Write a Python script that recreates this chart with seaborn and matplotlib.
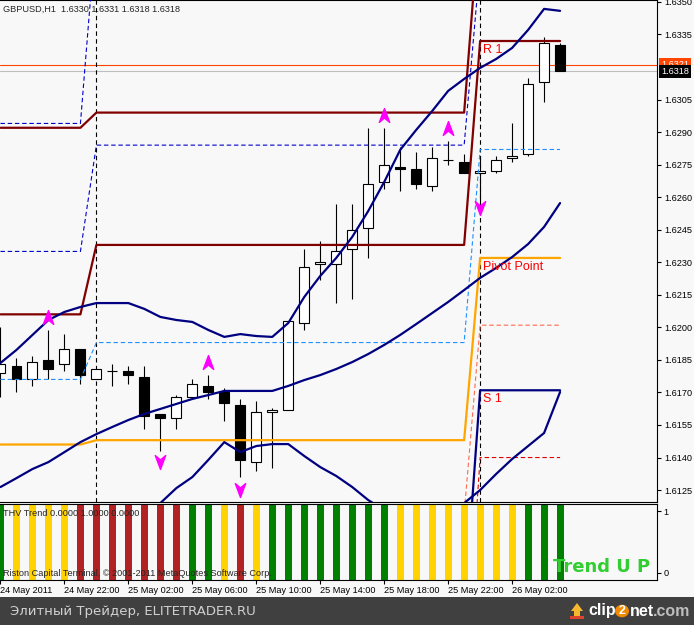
import numpy as np
import pandas as pd
import matplotlib
matplotlib.use("Agg")
import matplotlib.pyplot as plt
import matplotlib.transforms as mtransforms
from matplotlib.path import Path
from matplotlib.patches import Rectangle, Polygon, Circle
from matplotlib import font_manager
import seaborn as sns

# GBPUSD H1 candles, 24 May 2011 18:00 .. 26 May 05:00
opens = [1.6179, 1.6182, 1.6176, 1.6185, 1.6183, 1.6190, 1.6176, 1.6180, 1.6180, 1.6177,
         1.6160, 1.6158, 1.6168, 1.6173, 1.6170, 1.6164, 1.6138, 1.6161, 1.6162, 1.6202,
         1.6229, 1.6229, 1.6236, 1.6246, 1.6267, 1.6274, 1.6273, 1.6265, 1.6277, 1.6276,
         1.6271, 1.6272, 1.6278, 1.6280, 1.6313, 1.6330]
highs = [1.6200, 1.6186, 1.6187, 1.6199, 1.6197, 1.6190, 1.6181, 1.6183, 1.6182, 1.6182,
         1.6160, 1.6169, 1.6176, 1.6178, 1.6172, 1.6167, 1.6166, 1.6163, 1.6203, 1.6236,
         1.6240, 1.6257, 1.6257, 1.6292, 1.6292, 1.6283, 1.6281, 1.6283, 1.6286, 1.6280,
         1.6279, 1.6279, 1.6294, 1.6315, 1.6334, 1.6331]
lows = [1.6168, 1.6170, 1.6173, 1.6176, 1.6180, 1.6174, 1.6176, 1.6173, 1.6174, 1.6153,
        1.6143, 1.6153, 1.6168, 1.6167, 1.6157, 1.6131, 1.6134, 1.6135, 1.6162, 1.6199,
        1.6222, 1.6211, 1.6213, 1.6232, 1.6264, 1.6263, 1.6264, 1.6263, 1.6275, 1.6271,
        1.6257, 1.6271, 1.6276, 1.6279, 1.6304, 1.6318]
closes = [1.6183, 1.6176, 1.6184, 1.6181, 1.6190, 1.6178, 1.6181, 1.6180, 1.6178, 1.6159,
          1.6158, 1.6168, 1.6174, 1.6170, 1.6165, 1.6139, 1.6161, 1.6162, 1.6203, 1.6228,
          1.6230, 1.6235, 1.6245, 1.6266, 1.6275, 1.6273, 1.6266, 1.6278, 1.6277, 1.6271,
          1.6272, 1.6277, 1.6279, 1.6312, 1.6331, 1.6318]

# bollinger bands
bb_upper = [1.61836, 1.61896, 1.61965, 1.62034, 1.62071, 1.62094, 1.62112, 1.62112, 1.62112, 1.62085,
            1.62048, 1.62034, 1.62025, 1.61988, 1.61956, 1.61969, 1.61960, 1.61956, 1.62020, 1.62140,
            1.62237, 1.62320, 1.62417, 1.62536, 1.62670, 1.62818, 1.62910, 1.62997, 1.63090, 1.63145,
            1.63196, 1.63237, 1.63288, 1.63371, 1.63468, 1.63459]
bb_mid = [1.61264, 1.61305, 1.61347, 1.61379, 1.61425, 1.61471, 1.61508, 1.61541, 1.61573, 1.61601,
          1.61624, 1.61647, 1.61670, 1.61688, 1.61707, 1.61707, 1.61707, 1.61707, 1.61730, 1.61757,
          1.61780, 1.61808, 1.61840, 1.61877, 1.61919, 1.61965, 1.62015, 1.62066, 1.62117, 1.62172,
          1.62228, 1.62274, 1.62324, 1.62384, 1.62463, 1.62573]
bb_lower = [1.60692, 1.60715, 1.60729, 1.60725, 1.60780, 1.60849, 1.60904, 1.60969, 1.61033, 1.61116,
            1.61190, 1.61259, 1.61310, 1.61389, 1.61471, 1.61425, 1.61453, 1.61462, 1.61462, 1.61407,
            1.61356, 1.61315, 1.61264, 1.61204, 1.61158, 1.61112, 1.61089, 1.61103, 1.61135, 1.61190,
            1.61250, 1.61324, 1.61393, 1.61453, 1.61513, 1.61702]

# daily pivot levels (24, 25, 26 May)
lvl_r2 = [1.6292, 1.6299, 1.6393]
lvl_r1 = [1.6206, 1.6238, 1.6332]
lvl_pp = [1.6146, 1.6148, 1.6232]
lvl_s1 = [1.6061, 1.6068, 1.6171]
lvl_m3 = [1.6176, 1.6193, 1.6282]
lvl_hi_a = [1.6235, 1.6284, 1.6368]
lvl_hi_b = [1.6294, 1.6385, 1.6420]
lvl_m2 = [1.6110, 1.6114, 1.6201]
lvl_m1 = [1.6030, 1.6030, 1.6140]

# fractal arrows
up_arrow_bar = [3, 13, 24, 28]
up_arrow_price = [1.6205, 1.6184, 1.6298, 1.6292]
dn_arrow_bar = [10, 15, 30]
dn_arrow_price = [1.6138, 1.6125, 1.6255]

ask, bid = 1.6321, 1.6318

# THV trend histogram
thv_state = ["up", "flat", "flat", "flat", "flat", "down", "down", "down", "down", "down",
             "down", "down", "up", "up", "flat", "down", "flat", "up", "up", "up",
             "up", "up", "up", "up", "up", "flat", "flat", "flat", "flat", "flat",
             "flat", "flat", "flat", "up", "up", "up"]
thv_colors = {"up": "#008000", "flat": "#FFD200", "down": "#B22222"}

price_ticks = [1.6350, 1.6335, 1.6305, 1.6290, 1.6275, 1.6260, 1.6245, 1.6230,
               1.6215, 1.6200, 1.6185, 1.6170, 1.6155, 1.6140, 1.6125]
time_label_bars = [0, 4, 8, 12, 16, 20, 24, 28, 32]
time_labels = ["24 May 2011", "24 May 22:00", "25 May 02:00", "25 May 06:00", "25 May 10:00",
               "25 May 14:00", "25 May 18:00", "25 May 22:00", "26 May 02:00"]

BG = "#f8f8f8"
sns.set_style("white", {"axes.facecolor": BG, "figure.facecolor": BG, "axes.edgecolor": "black"})
names = {f.name for f in font_manager.fontManager.ttflist}
MT = "Liberation Sans Narrow" if "Liberation Sans Narrow" in names else "Liberation Sans"
SMALL = 7.8 if MT.endswith("Narrow") else 6.6
plt.rcParams["font.family"] = [MT, "DejaVu Sans"]

W, H = 694, 625
fig = plt.figure(figsize=(W / 100, H / 100), dpi=100)
ax = fig.add_axes([0, 123 / H, 657 / W, 502 / H])
ax2 = fig.add_axes([0, 45 / H, 657 / W, 76 / H])

times = pd.date_range("2011-05-24 18:00", periods=len(opens), freq="h")
bar_day = np.asarray((times.normalize() - times[0].normalize()).days)
day_starts = np.flatnonzero(np.diff(bar_day)) + 1
x = np.arange(len(opens))

o, c = np.array(opens), np.array(closes)
bull = c >= o

# candles
ax.vlines(x, lows, highs, color="black", lw=0.8, zorder=2)
ax.bar(x, np.abs(c - o), bottom=np.minimum(o, c), width=0.62,
       color=np.where(bull, "white", "black"), edgecolor="black", lw=0.8, zorder=3)

ax.axhline(ask, color="#FF4500", lw=0.8, zorder=1)
ax.axhline(bid, color="#BEBEBE", lw=0.8, zorder=1)
for d in day_starts:
    ax.axvline(d, color="black", lw=0.8, ls=(0, (4, 3)), zorder=1)

dash = (0, (4, 2.5))
pivots = [
    (lvl_hi_b, "#0000CD", 0.8, dash),
    (lvl_hi_a, "#0000CD", 0.8, dash),
    (lvl_m3, "#1E90FF", 0.8, dash),
    (lvl_m2, "#FF6A4D", 0.8, dash),
    (lvl_m1, "#E00000", 0.8, dash),
    (lvl_r2, "#800000", 1.6, "-"),
    (lvl_r1, "#800000", 1.6, "-"),
    (lvl_pp, "#FFA500", 1.6, "-"),
    (lvl_s1, "#000080", 1.6, "-"),
]
for vals, col, lw, ls in pivots:
    sns.lineplot(x=x, y=np.asarray(vals)[bar_day], ax=ax, color=col, lw=lw,
                 linestyle=ls, zorder=4)

for band in (bb_upper, bb_mid, bb_lower):
    sns.lineplot(x=x, y=band, ax=ax, color="#000080", lw=1.6, zorder=5)

# level captions
last = len(opens) - 1
lbl_tr = mtransforms.offset_copy(ax.transData, fig=fig, x=3, y=-3, units="dots")
for txt, vals in (("R 1", lvl_r1), ("Pivot Point", lvl_pp), ("S 1", lvl_s1)):
    ax.text(day_starts[-1], vals[-1], txt, transform=lbl_tr, color="#FF0000",
            fontsize=9, family="Liberation Sans", ha="left", va="top", zorder=6)

up_path = Path([(0, 0.6), (0.45, -0.6), (0, -0.22), (-0.45, -0.6), (0, 0.6)],
               [Path.MOVETO, Path.LINETO, Path.LINETO, Path.LINETO, Path.CLOSEPOLY])
dn_path = Path([(0, -0.6), (0.45, 0.6), (0, 0.22), (-0.45, 0.6), (0, -0.6)],
               [Path.MOVETO, Path.LINETO, Path.LINETO, Path.LINETO, Path.CLOSEPOLY])
ax.plot(up_arrow_bar, up_arrow_price, ls="none", marker=up_path, ms=10,
        color="#FF00FF", mec="#FF00FF", zorder=6)
ax.plot(dn_arrow_bar, dn_arrow_price, ls="none", marker=dn_path, ms=10,
        color="#FF00FF", mec="#FF00FF", zorder=6)

xlim = (-0.03, 657 / 16)
ax.set_xlim(xlim)
ax.set_ylim(1.61195, 1.63509)
ax.set_xlabel("")
ax.set_ylabel("")
ax.set_xticks([])
ax.yaxis.tick_right()
ax.set_yticks(price_ticks)
ax.set_yticklabels([f"{v:.4f}" for v in price_ticks])
ax.tick_params(axis="y", direction="out", length=3, width=0.8, pad=2,
               labelsize=SMALL, colors="black", right=True, left=False)
for side in ("top", "right", "bottom"):
    ax.spines[side].set_linewidth(0.8)
ax.spines["left"].set_visible(False)

# bid / ask boxes on the price scale
ptr = mtransforms.blended_transform_factory(ax.transAxes, ax.transData)
ax.text(1.006, ask, f"{ask:.4f}", transform=ptr, fontsize=SMALL, color="white",
        ha="left", va="center", clip_on=False, zorder=10,
        bbox=dict(boxstyle="square,pad=0.25", fc="#FF4500", ec="none"))
ax.text(1.006, bid, f"{bid:.4f}", transform=ptr, fontsize=SMALL, color="white",
        ha="left", va="center", clip_on=False, zorder=11,
        bbox=dict(boxstyle="square,pad=0.25", fc="black", ec="none"))

# indicator window
ax2.bar(x, 1.4, bottom=-0.2, width=0.44, color=[thv_colors[s] for s in thv_state], lw=0)
ax2.set_xlim(xlim)
ax2.set_ylim(-0.113, 1.113)
ax2.yaxis.tick_right()
ax2.set_yticks([0, 1])
ax2.set_yticklabels(["0", "1"])
ax2.set_xticks(time_label_bars)
ax2.set_xticklabels(time_labels)
for lbl in ax2.get_xticklabels():
    lbl.set_ha("left")
ax2.tick_params(axis="both", direction="out", length=3, width=0.8, pad=1.5,
                labelsize=SMALL, colors="black", bottom=True, right=True, left=False)
for side in ("top", "right", "bottom"):
    ax2.spines[side].set_linewidth(0.8)
ax2.spines["left"].set_visible(False)


def fx(px):
    return px / W


def fy(py):
    return 1 - py / H


fig.text(fx(3), fy(9), "GBPUSD,H1  1.6330 1.6331 1.6318 1.6318", fontsize=SMALL, va="center")
fig.text(fx(3), fy(514), "THV Trend 0.0000 1.0000 0.0000", fontsize=SMALL, va="center")
fig.text(fx(3), fy(573), "Riston Capital Terminal, \u00a9 2001-2011 MetaQuotes Software Corp.",
         fontsize=SMALL, va="center")
fig.text(fx(553), fy(567), "Trend U P", fontsize=13, weight="bold", color="#32CD32",
         family="DejaVu Sans", va="center")

# footer strip
fig.add_artist(Rectangle((0, 0), 1, 28 / H, transform=fig.transFigure,
                         facecolor="#404040", edgecolor="none"))
fig.text(fx(10), fy(611), "Элитный Трейдер, ELITETRADER.RU", color="#d0d0d0",
         fontsize=9.5, family="DejaVu Sans", va="center")
arrow_pts = [(571, 611), (577, 603), (583, 611), (580, 611), (580, 616), (574, 616), (574, 611)]
fig.add_artist(Polygon([(fx(a), fy(b)) for a, b in arrow_pts], closed=True,
                       transform=fig.transFigure, facecolor="#F5B82E", edgecolor="none"))
fig.add_artist(Rectangle((fx(570), fy(619)), fx(14), 3 / H, transform=fig.transFigure,
                         facecolor="#E0452B", edgecolor="none"))
fig.text(fx(588), fy(611), "clip", color="white", fontsize=11.5, weight="bold",
         family="Liberation Sans", va="center")
fig.add_artist(Circle((fx(622), fy(611)), 7 / W, transform=fig.transFigure,
                      facecolor="#F08A00", edgecolor="none"))
fig.text(fx(622), fy(611), "2", color="white", fontsize=9, weight="bold",
         family="Liberation Sans", va="center", ha="center")
fig.text(fx(630), fy(611), "net", color="white", fontsize=11.5, weight="bold",
         family="Liberation Sans", va="center")
fig.text(fx(653), fy(611), ".com", color="#bdbdbd", fontsize=11.5, weight="bold",
         family="Liberation Sans", va="center")

fig.savefig("out.png", dpi=100, facecolor=BG)
